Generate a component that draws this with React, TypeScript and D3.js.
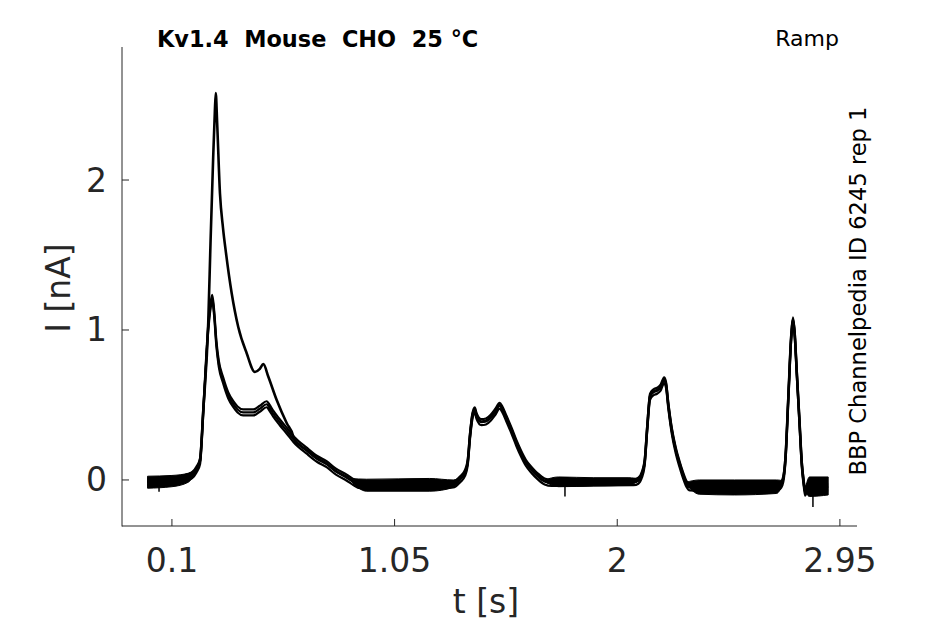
import * as d3 from 'd3'

// ramp protocol sweeps: [t (s), I (nA)]
const lowerSweep: [number, number][] = [
  [-0.004, -0.01], [0.05, -0.005], [0.1, 0.0], [0.15, 0.015], [0.185, 0.035], [0.205, 0.075],
  [0.22, 0.13], [0.234, 0.47], [0.255, 1.02], [0.265, 1.17], [0.272, 1.22], [0.28, 1.12],
  [0.29, 0.91], [0.3, 0.78], [0.319, 0.667], [0.34, 0.57], [0.362, 0.51], [0.38, 0.475],
  [0.404, 0.455], [0.447, 0.455], [0.475, 0.48], [0.504, 0.51], [0.515, 0.49], [0.533, 0.445],
  [0.56, 0.39], [0.59, 0.333], [0.62, 0.275], [0.675, 0.2], [0.72, 0.145], [0.76, 0.11],
  [0.8, 0.06], [0.846, 0.02], [0.875, -0.01], [0.902, -0.03], [0.95, -0.035], [1.1, -0.035],
  [1.3, -0.025], [1.33, 0.01], [1.35, 0.05], [1.362, 0.12], [1.372, 0.3], [1.382, 0.43],
  [1.392, 0.47], [1.4, 0.43], [1.42, 0.39], [1.44, 0.395], [1.46, 0.42], [1.48, 0.46],
  [1.498, 0.5], [1.51, 0.475], [1.527, 0.415], [1.55, 0.33], [1.57, 0.25], [1.59, 0.18],
  [1.61, 0.12], [1.635, 0.07], [1.66, 0.03], [1.69, -0.005], [1.72, -0.015], [1.9, -0.012],
  [2.07, -0.01], [2.09, 0.0], [2.105, 0.04], [2.117, 0.12], [2.128, 0.35], [2.14, 0.56],
  [2.155, 0.59], [2.17, 0.6], [2.185, 0.62], [2.2, 0.67], [2.208, 0.64], [2.218, 0.5],
  [2.232, 0.34], [2.25, 0.2], [2.266, 0.11], [2.28, 0.04], [2.295, -0.02], [2.31, -0.045],
  [2.4, -0.05], [2.55, -0.045], [2.69, -0.04], [2.705, -0.01], [2.718, 0.15], [2.73, 0.55],
  [2.742, 0.95], [2.75, 1.07], [2.757, 0.98], [2.766, 0.72], [2.778, 0.38], [2.788, 0.1],
  [2.796, -0.02], [2.802, -0.08], [2.81, -0.05], [2.85, -0.045], [2.9, -0.045],
]

// the one sweep with the large first peak (differs between 0.22 and 0.62 s)
const tallPeak: [number, number][] = [
  [0.234, 0.47], [0.255, 1.05], [0.265, 1.6], [0.276, 2.15], [0.283, 2.45], [0.287, 2.58],
  [0.293, 2.38], [0.305, 1.91], [0.318, 1.68], [0.331, 1.51], [0.355, 1.245], [0.383, 1.02],
  [0.419, 0.845], [0.454, 0.72], [0.475, 0.74], [0.49, 0.773], [0.511, 0.69], [0.547, 0.533],
  [0.59, 0.378], [0.618, 0.29],
]

// baseline level of the lower sweeps relative to the trace above (nA)
const sweepOffsets = [0.015, -0.005, -0.025]

// noise envelope of the overlapping sweeps on the flat stretches: [t, low, high]
const noiseStart: [number, number, number][] = [
  [-0.004, -0.055, 0.025], [0.1, -0.045, 0.03], [0.17, -0.015, 0.045], [0.2, 0.05, 0.07],
]
const noiseRest1: [number, number, number][] = [
  [0.86, 0.0, 0.01], [0.93, -0.075, 0.005], [1.2, -0.075, 0.01], [1.3, -0.05, 0.0], [1.335, 0.01, 0.02],
]
const noiseRest2: [number, number, number][] = [
  [1.69, -0.01, 0.0], [1.75, -0.045, 0.02], [1.9, -0.04, 0.015], [2.05, -0.035, 0.015], [2.095, 0.0, 0.005],
]
const noiseRest3: [number, number, number][] = [
  [2.295, -0.03, -0.015], [2.35, -0.095, 0.0], [2.5, -0.1, 0.0], [2.68, -0.09, 0.0], [2.708, -0.02, -0.005],
]
const noiseEnd: [number, number, number][] = [
  [2.805, -0.085, -0.04], [2.82, -0.11, 0.02], [2.9, -0.1, 0.02],
]

// short downward artefacts
const spikes: [number, number][] = [[0.045, -0.078], [1.777, -0.11], [2.835, -0.18]]

const xTicks = [0.1, 1.05, 2, 2.95]
const yTicks = [0, 1, 2]

const W = 945, H = 624
const ink = '#262626'
const font = '"DejaVu Sans", sans-serif'

export default function App() {
  const x = d3.scaleLinear().domain([-0.113, 3.023]).range([122, 857])
  const y = d3.scaleLinear().domain([-0.307, 2.887]).range([526, 47])

  const line = d3.line<[number, number]>()
    .x(d => x(d[0])).y(d => y(d[1])).curve(d3.curveMonotoneX)

  const band = d3.area<[number, number, number]>()
    .x(d => x(d[0])).y0(d => y(d[1])).y1(d => y(d[2])).curve(d3.curveMonotoneX)

  const tallSweep: [number, number][] = [
    ...lowerSweep.filter(d => d[0] < tallPeak[0][0]),
    ...tallPeak,
    ...lowerSweep.filter(d => d[0] > tallPeak[tallPeak.length - 1][0]),
  ]

  const x0 = x.range()[0], x1 = x.range()[1]
  const yb = y.range()[0], yt = y.range()[1]

  return (
    <svg width={W} height={H} style={{ position: 'absolute', left: 0, top: 0, background: '#fff' }}>
      <g fill="#000" stroke="#000" strokeWidth={1}>
        {[noiseStart, noiseRest1, noiseRest2, noiseRest3, noiseEnd].map((b, i) => (
          <path key={i} d={band(b) ?? ''} />
        ))}
      </g>
      <g fill="none" stroke="#000" strokeWidth={2.2} strokeLinejoin="round">
        {sweepOffsets.map((o, i) => (
          <path key={i} d={line(lowerSweep.map(d => [d[0], d[1] + o] as [number, number])) ?? ''} />
        ))}
        <path d={line(tallSweep) ?? ''} strokeWidth={2.6} />
        {spikes.map((s, i) => (
          <line key={i} x1={x(s[0])} x2={x(s[0])} y1={y(-0.02)} y2={y(s[1])} strokeWidth={1.5} />
        ))}
      </g>

      {/* axes */}
      <g stroke={ink} strokeWidth={1}>
        <line x1={x0} x2={x0} y1={yt} y2={yb + 0.5} />
        <line x1={x0} x2={x1} y1={yb} y2={yb} />
        {yTicks.map(t => (
          <line key={t} x1={x0} x2={x0 + 7} y1={y(t)} y2={y(t)} />
        ))}
        {xTicks.map(t => (
          <line key={t} x1={x(t)} x2={x(t)} y1={yb} y2={yb - 7} />
        ))}
      </g>
      <g fill={ink} fontFamily={font} fontSize={33}>
        {yTicks.map(t => (
          <text key={t} x={x0 - 15} y={y(t)} textAnchor="end" dominantBaseline="central">{t}</text>
        ))}
        {xTicks.map(t => (
          <text key={t} x={x(t)} y={572} textAnchor="middle">{t}</text>
        ))}
        <text x={486} y={613} textAnchor="middle">t [s]</text>
        <text transform="translate(70,288) rotate(-90)" textAnchor="middle">I [nA]</text>
      </g>

      <g fontFamily={font} fontSize={22} fill="#000">
        <text x={157} y={47} fontWeight="bold" fontSize={22.4} style={{ whiteSpace: 'pre' }}>{'Kv1.4  Mouse  CHO  25 °C'}</text>
        <text x={839} y={46} textAnchor="end">Ramp</text>
        <text transform="translate(866,291) rotate(-90)" textAnchor="middle" fontSize={22.6}>BBP Channelpedia ID 6245 rep 1</text>
      </g>
    </svg>
  )
}
